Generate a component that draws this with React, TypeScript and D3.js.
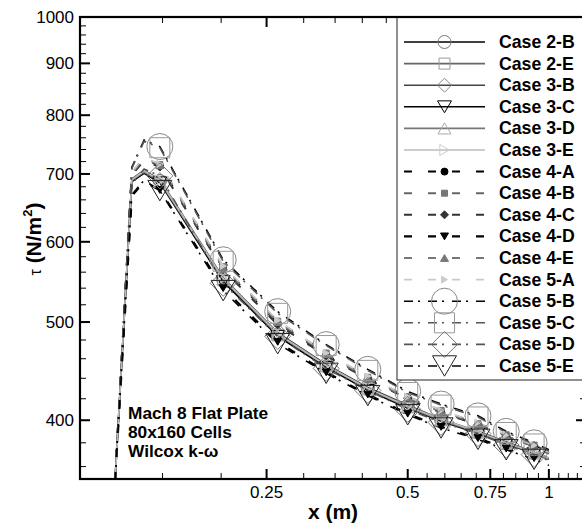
import React from 'react';
import * as d3 from 'd3';

// x positions (m) shared by all cases
const xGrid = [0.118, 0.129, 0.137, 0.148, 0.202, 0.264, 0.335, 0.411, 0.5, 0.589, 0.706, 0.811, 0.93, 1.0];

// wall shear stress tau (N/m^2) per case
const case2B = [330, 690, 704, 689, 551, 486, 452, 430, 413, 400, 389, 380, 372, 367];
const case2E = [330, 689, 702, 688, 550, 485, 452, 429, 412, 400, 389, 379, 371, 366];
const case3B = [330, 692, 706, 691, 553, 488, 454, 431, 414, 401, 390, 381, 372, 367];
const case3C = [330, 688, 701, 686, 548, 484, 451, 428, 411, 399, 388, 379, 371, 366];
const case3D = [330, 690, 703, 688, 551, 486, 453, 430, 412, 400, 389, 380, 371, 366];
const case3E = [330, 691, 705, 690, 552, 487, 453, 430, 413, 401, 390, 380, 372, 367];
const case4A = [330, 700, 724, 713, 565, 499, 464, 440, 421, 408, 396, 386, 377, 371];
const case4B = [330, 702, 726, 715, 567, 501, 466, 441, 422, 409, 397, 387, 378, 372];
const case4C = [330, 698, 722, 711, 563, 497, 463, 439, 420, 407, 396, 386, 377, 371];
const case4D = [330, 666, 688, 675, 540, 478, 446, 424, 406, 394, 384, 375, 367, 362];
const case4E = [330, 701, 725, 714, 566, 500, 465, 440, 421, 408, 397, 386, 377, 371];
const case5A = [330, 703, 727, 716, 568, 502, 466, 442, 422, 409, 398, 387, 378, 372];
const case5B = [330, 711, 756, 745, 576, 512, 475, 449, 427, 415, 404, 390, 380, 374];
const case5C = [330, 709, 754, 743, 574, 510, 474, 448, 426, 414, 403, 389, 379, 373];
const case5D = [330, 684, 708, 697, 546, 484, 450, 428, 410, 398, 388, 378, 370, 365];
const case5E = [330, 668, 690, 674, 537, 476, 445, 423, 405, 393, 383, 374, 366, 361];

const caseNames = ['Case 2-B', 'Case 2-E', 'Case 3-B', 'Case 3-C', 'Case 3-D', 'Case 3-E', 'Case 4-A', 'Case 4-B',
  'Case 4-C', 'Case 4-D', 'Case 4-E', 'Case 5-A', 'Case 5-B', 'Case 5-C', 'Case 5-D', 'Case 5-E'];
const caseValues = [case2B, case2E, case3B, case3C, case3D, case3E, case4A, case4B, case4C, case4D, case4E, case5A,
  case5B, case5C, case5D, case5E];

const xMajorTicks = [0.25, 0.5, 0.75, 1];
const xMajorLabels = ['0.25', '0.5', '0.75', '1'];
const xMinorTicks = [0.15, 0.2, 0.3, 0.35, 0.4, 0.45, 0.55, 0.6, 0.65, 0.7, 0.8, 0.85, 0.9, 0.95, 1.05, 1.1, 1.15];
const yMajorTicks = [400, 500, 600, 700, 800, 900, 1000];
const yMinorTicks = [360, 380, 420, 440, 460, 480, 520, 540, 560, 580, 620, 640, 660, 680, 720, 740, 760, 780,
  820, 840, 860, 880, 920, 940, 960, 980];
const annotationLines = ['Mach 8 Flat Plate', '80x160 Cells', 'Wilcox k-\u03c9'];

type Marker = 'circle' | 'square' | 'diamond' | 'tridown' | 'triup' | 'triright';
interface Style { color: string; dash: string; width: number; marker: Marker; size: number; mStroke: string; filled: boolean; }

const DASH = '8,16';
const DASHDOT = '9,5,2,8';
const styles: Style[] = [
  { color: '#000', dash: '', width: 1.6, marker: 'circle', size: 6.5, mStroke: '#777', filled: false },
  { color: '#666', dash: '', width: 1.6, marker: 'square', size: 5.5, mStroke: '#999', filled: false },
  { color: '#444', dash: '', width: 1.6, marker: 'diamond', size: 7, mStroke: '#888', filled: false },
  { color: '#000', dash: '', width: 1.4, marker: 'tridown', size: 7, mStroke: '#000', filled: false },
  { color: '#777', dash: '', width: 1.6, marker: 'triup', size: 6.5, mStroke: '#aaa', filled: false },
  { color: '#bbb', dash: '', width: 1.6, marker: 'triright', size: 5.5, mStroke: '#ccc', filled: false },
  { color: '#000', dash: DASH, width: 2, marker: 'circle', size: 3.5, mStroke: '#000', filled: true },
  { color: '#666', dash: DASH, width: 2, marker: 'square', size: 3, mStroke: '#777', filled: true },
  { color: '#333', dash: DASH, width: 2, marker: 'diamond', size: 4, mStroke: '#333', filled: true },
  { color: '#000', dash: DASH, width: 2.2, marker: 'tridown', size: 4, mStroke: '#000', filled: true },
  { color: '#777', dash: DASH, width: 2, marker: 'triup', size: 4, mStroke: '#777', filled: true },
  { color: '#ccc', dash: DASH, width: 1.6, marker: 'triright', size: 3.5, mStroke: '#ccc', filled: true },
  { color: '#000', dash: DASHDOT, width: 1.6, marker: 'circle', size: 13, mStroke: '#888', filled: false },
  { color: '#555', dash: DASHDOT, width: 1.6, marker: 'square', size: 10, mStroke: '#999', filled: false },
  { color: '#555', dash: DASHDOT, width: 1.6, marker: 'diamond', size: 13, mStroke: '#777', filled: false },
  { color: '#000', dash: DASHDOT, width: 1.6, marker: 'tridown', size: 12, mStroke: '#222', filled: false },
];

function markerPath(type: Marker, cx: number, cy: number, s: number): string {
  switch (type) {
    case 'square': return `M${cx - s},${cy - s}H${cx + s}V${cy + s}H${cx - s}Z`;
    case 'diamond': return `M${cx},${cy - s}L${cx + s},${cy}L${cx},${cy + s}L${cx - s},${cy}Z`;
    case 'tridown': return `M${cx - s},${cy - s * 0.85}H${cx + s}L${cx},${cy + s * 0.85}Z`;
    case 'triup': return `M${cx - s},${cy + s * 0.85}H${cx + s}L${cx},${cy - s * 0.85}Z`;
    case 'triright': return `M${cx - s * 0.85},${cy - s}V${cy + s}L${cx + s * 0.85},${cy}Z`;
    default: return '';
  }
}

function MarkerShape({ st, cx, cy }: { st: Style; cx: number; cy: number }) {
  const fill = st.filled ? st.mStroke : 'none';
  if (st.marker === 'circle') {
    return <circle cx={cx} cy={cy} r={st.size} fill={fill} stroke={st.mStroke} strokeWidth={1} />;
  }
  return <path d={markerPath(st.marker, cx, cy, st.size)} fill={fill} stroke={st.mStroke} strokeWidth={1} />;
}

export default function App() {
  const W = 582, H = 527;
  const left = 80, right = 586, top = 17, bottom = 479;
  const x = d3.scaleLog().domain([0.1, 1.2]).range([left, right]);
  const y = d3.scaleLog().domain([350, 1000]).range([bottom, top]);
  const line = d3.line<number>().x((_, i) => x(xGrid[i])).y((v) => y(v));
  const font = 'Arial, "Liberation Sans", Helvetica, sans-serif';
  const legX0 = 397, legY1 = 380;
  const markerIdx = [3, 4, 5, 6, 7, 8, 9, 10, 11, 12];

  return (
    <svg width={W} height={H} style={{ position: 'absolute', left: 0, top: 0, background: '#fff' }} fontFamily={font}>
      <defs>
        <clipPath id="plotclip"><rect x={left} y={top} width={right - left} height={bottom - top} /></clipPath>
      </defs>
      <rect x={0} y={0} width={W} height={H} fill="#fff" />

      {/* series lines */}
      <g clipPath="url(#plotclip)">
        {caseValues.map((vals, k) => (
          <path key={'l' + k} d={line(vals) || ''} fill="none" stroke={styles[k].color}
            strokeWidth={styles[k].width} strokeDasharray={styles[k].dash || undefined} />
        ))}
        {caseValues.map((vals, k) => (
          <g key={'m' + k}>
            {markerIdx.map((i) => <MarkerShape key={i} st={styles[k]} cx={x(xGrid[i])} cy={y(vals[i])} />)}
          </g>
        ))}
      </g>

      {/* ticks */}
      <g stroke="#000" strokeWidth={1.5}>
        {yMajorTicks.map((t) => (
          <g key={'ym' + t}>
            <line x1={left} x2={left + 10} y1={y(t)} y2={y(t)} strokeWidth={2} />
            <line x1={right} x2={right - 10} y1={y(t)} y2={y(t)} strokeWidth={2} />
          </g>
        ))}
        {yMinorTicks.map((t) => (
          <g key={'yn' + t}>
            <line x1={left} x2={left + 6} y1={y(t)} y2={y(t)} strokeWidth={1} />
            <line x1={right} x2={right - 6} y1={y(t)} y2={y(t)} strokeWidth={1} />
          </g>
        ))}
        {xMajorTicks.map((t) => (
          <g key={'xm' + t}>
            <line x1={x(t)} x2={x(t)} y1={bottom} y2={bottom - 10} strokeWidth={2} />
            <line x1={x(t)} x2={x(t)} y1={top} y2={top + 10} strokeWidth={2} />
          </g>
        ))}
        {xMinorTicks.map((t) => (
          <g key={'xn' + t}>
            <line x1={x(t)} x2={x(t)} y1={bottom} y2={bottom - 6} strokeWidth={1} />
            <line x1={x(t)} x2={x(t)} y1={top} y2={top + 6} strokeWidth={1} />
          </g>
        ))}
      </g>

      {/* legend */}
      <rect x={legX0} y={top} width={right - legX0} height={legY1 - top} fill="#fff" stroke="#222" strokeWidth={1} />
      {caseNames.map((name, k) => {
        const cy = 42 + k * 21.6;
        const st = styles[k];
        return (
          <g key={'lg' + k}>
            <line x1={404} x2={485} y1={cy} y2={cy} stroke={st.color} strokeWidth={st.width}
              strokeDasharray={st.dash || undefined} />
            <MarkerShape st={st} cx={444.5} cy={cy} />
            <text x={499} y={cy + 6} fontSize={17.7} fontWeight="bold" fill="#000">{name}</text>
          </g>
        );
      })}

      {/* frame */}
      <rect x={left} y={top} width={right - left} height={bottom - top} fill="none" stroke="#000" strokeWidth={2.2} />

      {/* tick labels */}
      {yMajorTicks.map((t) => (
        <text key={'yl' + t} x={74} y={y(t) + 6} fontSize={17} textAnchor="end" fill="#000">{t}</text>
      ))}
      {xMajorTicks.map((t, i) => (
        <text key={'xl' + t} x={x(t)} y={498} fontSize={17} textAnchor="middle" fill="#000">{xMajorLabels[i]}</text>
      ))}

      {/* axis titles */}
      <text x={333} y={519} fontSize={21} fontWeight="bold" textAnchor="middle" fill="#000">x (m)</text>
      <text transform="translate(41,239) rotate(-90)" fontSize={21} fontWeight="bold" textAnchor="middle" fill="#000">
        <tspan fontWeight="normal" fontSize={16}>{'\u03c4'}</tspan>
        <tspan> (N/m</tspan>
        <tspan fontSize={13} dy={-9}>2</tspan>
        <tspan dy={9}>)</tspan>
      </text>

      {/* annotation */}
      {annotationLines.map((s, i) => (
        <text key={'an' + i} x={128} y={419 + i * 19} fontSize={17.3} fontWeight="bold" fill="#000">{s}</text>
      ))}
    </svg>
  );
}
